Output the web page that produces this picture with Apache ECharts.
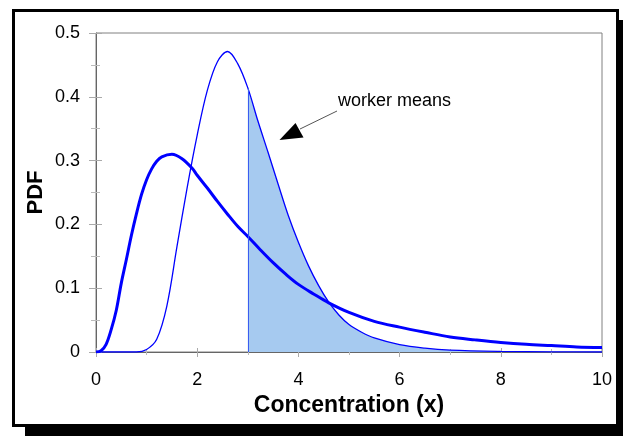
<!DOCTYPE html>
<html>
<head>
<meta charset="utf-8">
<script src="https://cdn.jsdelivr.net/npm/echarts@6/dist/echarts.min.js"></script>
<style>
  html, body { margin: 0; padding: 0; background: #fff; }
  #main { width: 623px; height: 436px; }
</style>
</head>
<body>
<div id="main"></div>
<script>
var dom = document.getElementById("main");
var myChart = echarts.init(dom);

// wide curve (thick line)
var wideX = [0, 0.1, 0.2, 0.3, 0.4, 0.5, 0.6, 0.7, 0.8, 0.9, 1.0, 1.1, 1.2, 1.3, 1.5, 1.7, 1.9, 2.0, 2.2, 2.4, 2.6, 2.8, 3.0, 3.25, 3.5, 3.75, 4.0, 4.3, 4.6, 5.0, 5.5, 6.0, 6.5, 7.0, 7.5, 8.0, 8.5, 9.0, 9.5, 10];
var wideY = [0, 0.002, 0.012, 0.035, 0.065, 0.108, 0.145, 0.183, 0.217, 0.247, 0.27, 0.287, 0.299, 0.306, 0.31, 0.303, 0.288, 0.277, 0.257, 0.236, 0.216, 0.197, 0.181, 0.16, 0.14, 0.122, 0.106, 0.091, 0.077, 0.062, 0.048, 0.039, 0.031, 0.0235, 0.019, 0.015, 0.012, 0.01, 0.008, 0.007];

// narrow curve (thin line)
var narrowX = [0, 0.5, 0.8, 1.0, 1.2, 1.4, 1.6, 1.8, 2.0, 2.2, 2.4, 2.6, 2.8, 3.0, 3.2, 3.4, 3.6, 3.8, 4.0, 4.2, 4.4, 4.6, 4.8, 5.0, 5.25, 5.5, 6.0, 6.5, 7.0, 8.0, 9.0, 10];
var narrowY = [0, 0, 0, 0.004, 0.02, 0.072, 0.165, 0.257, 0.34, 0.41, 0.455, 0.471, 0.452, 0.414, 0.362, 0.313, 0.263, 0.214, 0.172, 0.135, 0.104, 0.078, 0.058, 0.043, 0.031, 0.022, 0.0115, 0.006, 0.003, 0.001, 0.0003, 0];

var cutX = 3;

var widePts = wideX.map(function (x, i) { return [x, wideY[i]]; });
var narrowPts = narrowX.map(function (x, i) { return [x, narrowY[i]]; });
var shadePts = narrowPts.filter(function (p) { return p[0] >= cutX; });
var cutY = narrowY[narrowX.indexOf(cutX)];

var font = 'Liberation Sans, Arial, sans-serif';

option = {
    backgroundColor: '#fff',
    animation: false,
    graphic: [
        { type: 'rect', z: -20, shape: { x: 25, y: 20, width: 620, height: 430 }, style: { fill: '#000' } },
        { type: 'rect', z: -19, shape: { x: 13.5, y: 10.5, width: 604, height: 415 }, style: { fill: '#fff', stroke: '#000', lineWidth: 3 } },
        { type: 'line', z: 50, shape: { x1: 337, y1: 111, x2: 300, y2: 129 }, style: { stroke: '#555', lineWidth: 1 } },
        { type: 'polygon', z: 50, shape: { points: [[279.5, 140], [295.5, 123], [303.5, 137.5]] }, style: { fill: '#000' } },
        { type: 'text', z: 50, x: 338, y: 92, style: { text: 'worker means', fontFamily: font, fontSize: 18, fill: '#000' } }
    ],
    grid: {
        left: 96,
        right: 21,
        top: 33,
        bottom: 84,
        show: true,
        borderColor: '#808080',
        borderWidth: 1
    },
    xAxis: [{
        type: 'value',
        min: 0,
        max: 10,
        interval: 2,
        name: 'Concentration (x)',
        nameLocation: 'middle',
        nameGap: 41,
        nameTextStyle: { fontFamily: font, fontSize: 23, fontWeight: 'bold', color: '#000' },
        axisLine: { show: true, onZero: false, lineStyle: { color: '#666' } },
        axisTick: { show: true, length: 5, lineStyle: { color: '#aaa' } },
        minorTick: { show: true, splitNumber: 2, length: 3, lineStyle: { color: '#bbb' } },
        splitLine: { show: false },
        axisLabel: { margin: 19, fontFamily: font, fontSize: 18, color: '#000' }
    }, {
        type: 'value',
        position: 'bottom',
        min: 0,
        max: 10,
        interval: 2,
        axisLine: { show: false },
        axisTick: { show: true, inside: true, length: 4, lineStyle: { color: '#aaa' } },
        minorTick: { show: true, splitNumber: 2, length: 3, lineStyle: { color: '#bbb' } },
        splitLine: { show: false },
        axisLabel: { show: false }
    }],
    yAxis: [{
        type: 'value',
        min: 0,
        max: 0.5,
        interval: 0.1,
        name: 'PDF',
        nameLocation: 'middle',
        nameGap: 49,
        nameMoveOverlap: false,
        nameTextStyle: { fontFamily: font, fontSize: 22, fontWeight: 'bold', color: '#000' },
        axisLine: { show: true, onZero: false, lineStyle: { color: '#666' } },
        axisTick: { show: true, length: 7, lineStyle: { color: '#aaa' } },
        minorTick: { show: true, splitNumber: 2, length: 5, lineStyle: { color: '#bbb' } },
        splitLine: { show: false },
        axisLabel: { margin: 16, fontFamily: font, fontSize: 18, color: '#000' }
    }, {
        type: 'value',
        position: 'left',
        min: 0,
        max: 0.5,
        interval: 0.1,
        axisLine: { show: false },
        axisTick: { show: true, inside: true, length: 6, lineStyle: { color: '#aaa' } },
        minorTick: { show: true, splitNumber: 2, length: 4, lineStyle: { color: '#bbb' } },
        splitLine: { show: false },
        axisLabel: { show: false }
    }],
    series: [
        {
            name: 'shade',
            type: 'line',
            data: shadePts,
            symbol: 'none',
            lineStyle: { width: 0 },
            areaStyle: { color: '#a6caf0', opacity: 1 },
            z: 1,
            markLine: {
                silent: true,
                symbol: 'none',
                label: { show: false },
                lineStyle: { color: '#3a5cf0', width: 1, type: 'solid' },
                data: [[{ coord: [cutX, 0] }, { coord: [cutX, cutY] }]]
            }
        },
        {
            name: 'narrow',
            type: 'line',
            data: narrowPts,
            smooth: 0.35,
            symbol: 'none',
            lineStyle: { color: '#0000ff', width: 1.3 },
            z: 3
        },
        {
            name: 'wide',
            type: 'line',
            data: widePts,
            smooth: 0.35,
            symbol: 'none',
            lineStyle: { color: '#0000ff', width: 3 },
            z: 4
        }
    ]
};
if (option && typeof option === "object") {
    myChart.setOption(option, true);
}
</script>
</body>
</html>
